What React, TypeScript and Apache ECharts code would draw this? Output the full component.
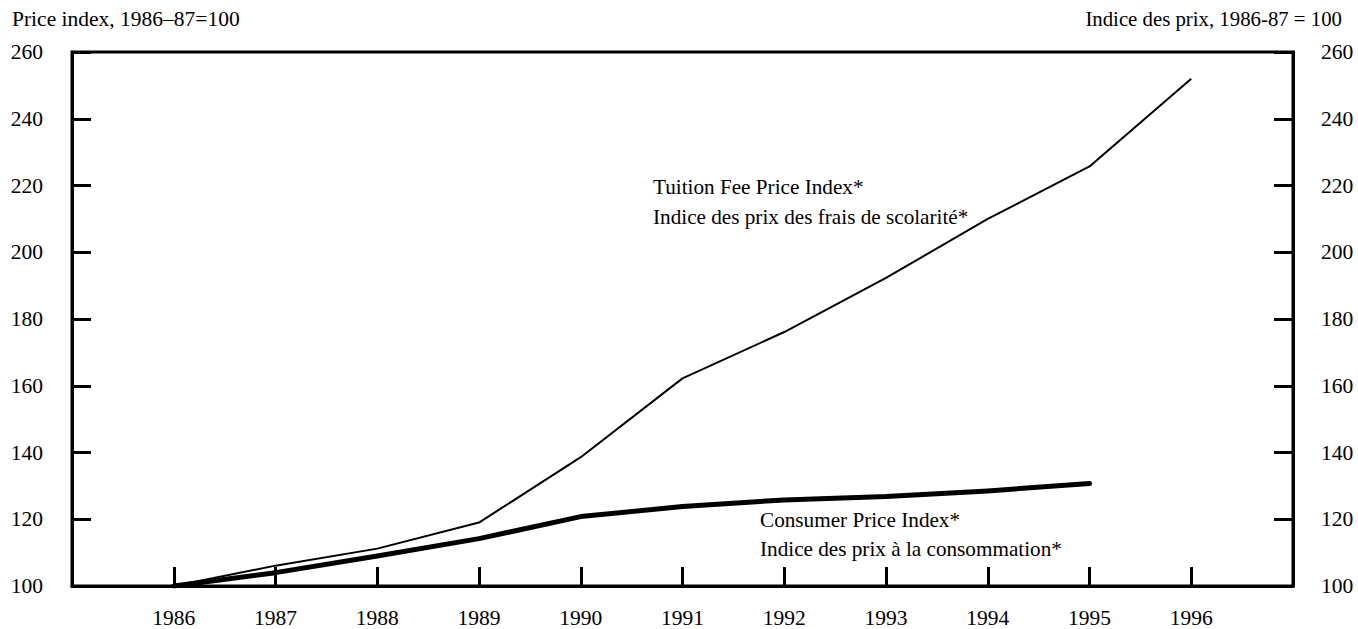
import React, { useEffect, useRef } from "react";
import * as echarts from "echarts";

const years = [1986, 1987, 1988, 1989, 1990, 1991, 1992, 1993, 1994, 1995, 1996];
const tuitionIndex = [100, 106.1, 111.2, 119, 138.6, 162.2, 176.1, 192.3, 210, 225.7, 252];
const cpiYears = [1986, 1987, 1988, 1989, 1990, 1991, 1992, 1993, 1994, 1995];
const cpiIndex = [100, 104, 109, 114.2, 120.8, 123.8, 125.8, 126.8, 128.5, 130.7];
const yTicks = [100, 120, 140, 160, 180, 200, 220, 240, 260];

const leftTitle = "Price index, 1986\u201387=100";
const rightTitle = "Indice des prix, 1986-87 = 100";
const tuitionLabel = ["Tuition Fee Price Index*", "Indice des prix des frais de scolarit\u00e9*"];
const cpiLabel = ["Consumer Price Index*", "Indice des prix \u00e0 la consommation*"];

const FONT = "'Liberation Serif', 'Times New Roman', Times, serif";
const FS = 21.5;

export default function App() {
  const ref = useRef<HTMLDivElement>(null);
  useEffect(() => {
    if (!ref.current) return;
    const chart = echarts.init(ref.current, null, { renderer: "svg" });
    const yAxisCommon = {
      type: "value" as const,
      min: yTicks[0],
      max: yTicks[yTicks.length - 1],
      interval: 20,
      splitLine: { show: false },
      axisLine: { show: true, lineStyle: { color: "#000", width: 3 } },
      axisTick: { show: true, inside: true, length: 19, lineStyle: { color: "#000", width: 3 } },
      axisLabel: { color: "#000", fontFamily: FONT, fontSize: FS },
    };
    chart.setOption({
      animation: false,
      backgroundColor: "#fff",
      grid: {
        left: 72,
        right: 65,
        top: 52,
        bottom: 43,
        show: true,
        borderColor: "#000",
        borderWidth: 3,
        containLabel: false,
      },
      xAxis: {
        type: "value",
        min: 1985,
        max: 1997,
        interval: 1,
        splitLine: { show: false },
        axisLine: { show: true, lineStyle: { color: "#000", width: 3 } },
        axisTick: { show: true, inside: true, length: 19, lineStyle: { color: "#000", width: 3 } },
        axisLabel: {
          color: "#000",
          fontFamily: FONT,
          fontSize: FS,
          margin: 21,
          formatter: (v: number) => (years.includes(v) ? String(v) : ""),
        },
      },
      yAxis: [
        { ...yAxisCommon, position: "left", axisLabel: { ...yAxisCommon.axisLabel, margin: 29 } },
        { ...yAxisCommon, position: "right", axisLabel: { ...yAxisCommon.axisLabel, margin: 28 } },
      ],
      series: [
        {
          type: "line",
          name: "Tuition",
          data: years.map((y, i) => [y, tuitionIndex[i]]),
          showSymbol: false,
          lineStyle: { color: "#000", width: 2 },
          z: 3,
        },
        {
          type: "line",
          name: "CPI",
          data: cpiYears.map((y, i) => [y, cpiIndex[i]]),
          showSymbol: false,
          lineStyle: { color: "#000", width: 5, cap: "round", join: "round" },
          z: 4,
        },
      ],
      graphic: [
        {
          type: "text",
          left: 12,
          top: 8,
          style: { text: leftTitle, font: `${FS}px ${FONT}`, fill: "#000" },
        },
        {
          type: "text",
          right: 16,
          top: 8,
          style: { text: rightTitle, font: `20.8px ${FONT}`, fill: "#000", textAlign: "right" },
        },
        {
          type: "text",
          left: 653,
          top: 172,
          style: { text: tuitionLabel.join("\n"), font: `21.2px ${FONT}`, fill: "#000", lineHeight: 30 },
        },
        {
          type: "text",
          left: 760,
          top: 505,
          style: { text: cpiLabel.join("\n"), font: `21.2px ${FONT}`, fill: "#000", lineHeight: 29 },
        },
      ],
    });
    return () => chart.dispose();
  }, []);
  return <div ref={ref} style={{ width: 1358, height: 629, position: "absolute", left: 0, top: 0 }} />;
}
